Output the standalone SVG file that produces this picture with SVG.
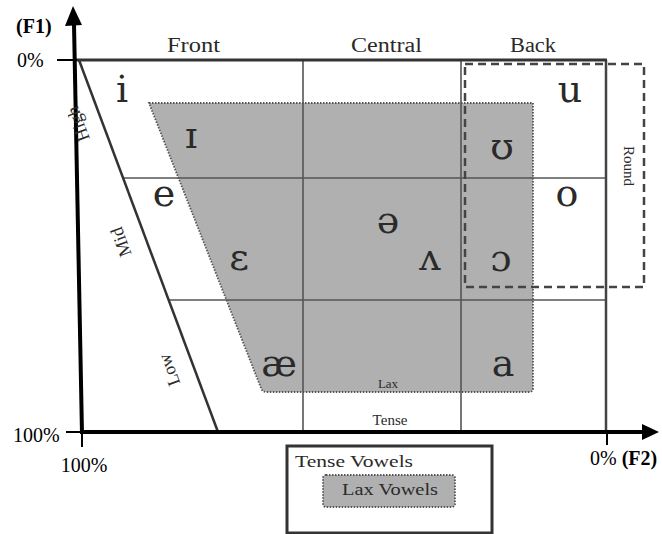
<svg xmlns="http://www.w3.org/2000/svg" width="662" height="534" viewBox="0 0 662 534">
<style>
.lbl{font-family:"Liberation Serif","DejaVu Serif",serif;fill:#2a2a2a}
.axl{font-family:"Liberation Serif","DejaVu Serif",serif;fill:#000;font-size:20px}
.v{font-family:"DejaVu Serif","Liberation Serif",serif;fill:#2a2a2a;font-size:38px;text-anchor:middle}
.grid{stroke:#555;stroke-width:1.6;fill:none}
.lax{fill:#b0b0b0;stroke:#555;stroke-width:1.8;stroke-dasharray:1.5 1.5}
</style>
<rect width="662" height="534" fill="#fff"/>
<g id="lax-region">
<path class="lax" d="M149,103 L533,103 L533,388 Q533,392 529,392 L267,392 Q262,392 261,388 Z"/>
</g>
<g id="grid">
<line class="grid" x1="124" y1="178" x2="607" y2="178"/>
<line class="grid" x1="169" y1="300" x2="607" y2="300"/>
<line class="grid" x1="303" y1="60" x2="303" y2="432"/>
<line class="grid" x1="461" y1="60" x2="461" y2="432"/>
<line x1="606" y1="60" x2="606" y2="432" stroke="#444" stroke-width="2.5"/>
<line x1="76" y1="60" x2="607" y2="60" stroke="#333" stroke-width="3"/>
<line x1="79" y1="60" x2="218" y2="432" stroke="#333" stroke-width="2.5"/>
</g>
<g id="round-box">
<rect x="465" y="64" width="179" height="223" fill="none" stroke="#444" stroke-width="2.5" stroke-dasharray="8 5"/>
<text class="lbl" font-size="15" text-anchor="middle" transform="translate(624,166) rotate(90)">Round</text>
</g>
<g id="connectors">
<line x1="82" y1="434" x2="74" y2="24" stroke="#000" stroke-width="4"/>
<polygon points="73,6 65,26 82,25" fill="#000"/>
<line x1="80" y1="432" x2="643" y2="432" stroke="#000" stroke-width="4"/>
<polygon points="659,432 642,424 642,440" fill="#000"/>
<line x1="57" y1="60" x2="77" y2="60" stroke="#000" stroke-width="2"/>
<line x1="66" y1="432" x2="82" y2="432" stroke="#000" stroke-width="2"/>
<line x1="82" y1="432" x2="82" y2="447" stroke="#000" stroke-width="2"/>
<line x1="607" y1="432" x2="607" y2="445" stroke="#000" stroke-width="2"/>
</g>
<g id="axis-labels">
<text class="axl" x="16" y="33" font-weight="bold">(F1)</text>
<text class="axl" x="17" y="67">0%</text>
<text class="axl" x="13" y="442">100%</text>
<text class="axl" x="84" y="472" text-anchor="middle">100%</text>
<text class="axl" x="590" y="465">0% <tspan font-weight="bold">(F2)</tspan></text>
</g>
<g id="column-labels">
<text class="lbl" font-size="20" x="167" y="52" textLength="53" lengthAdjust="spacingAndGlyphs">Front</text>
<text class="lbl" font-size="20" x="351" y="52" textLength="71" lengthAdjust="spacingAndGlyphs">Central</text>
<text class="lbl" font-size="20" x="510" y="52" textLength="46" lengthAdjust="spacingAndGlyphs">Back</text>
</g>
<g id="height-labels">
<text class="lbl" font-size="18" text-anchor="middle" transform="translate(78,124) rotate(-110.4)" dy="6">High</text>
<text class="lbl" font-size="18" text-anchor="middle" transform="translate(121,242) rotate(-110.4)" dy="6">Mid</text>
<text class="lbl" font-size="18" text-anchor="middle" transform="translate(169,370) rotate(-110.4)" dy="6">Low</text>
</g>
<g id="region-labels">
<text class="lbl" font-size="13" x="388" y="388" text-anchor="middle">Lax</text>
<text class="lbl" font-size="15" x="390" y="425" text-anchor="middle">Tense</text>
</g>
<g id="vowel-i"><text class="v" x="122" y="102">i</text></g>
<g id="vowel-I"><text class="v" x="191" y="148">ɪ</text></g>
<g id="vowel-e"><text class="v" x="164" y="206">e</text></g>
<g id="vowel-eps"><text class="v" x="239" y="270">ɛ</text></g>
<g id="vowel-ae"><text class="v" x="279" y="376">æ</text></g>
<g id="vowel-schwa"><text class="v" x="388" y="233">ə</text></g>
<g id="vowel-wedge"><text class="v" x="430" y="270">ʌ</text></g>
<g id="vowel-u"><text class="v" x="570" y="102">u</text></g>
<g id="vowel-upsilon"><text class="v" x="502" y="159">ʊ</text></g>
<g id="vowel-o"><text class="v" x="567" y="206">o</text></g>
<g id="vowel-openo"><text class="v" x="501" y="271">ɔ</text></g>
<g id="vowel-a"><text class="v" x="503" y="376">a</text></g>
<g id="legend">
<rect x="287" y="446" width="205" height="87" fill="#fff" stroke="#333" stroke-width="3"/>
<text class="lbl" font-size="17" x="295" y="467" textLength="118" lengthAdjust="spacingAndGlyphs">Tense Vowels</text>
<rect x="323" y="475" width="132" height="32" rx="3" class="lax"/>
<text class="lbl" font-size="17" x="342" y="495" textLength="96" lengthAdjust="spacingAndGlyphs">Lax Vowels</text>
</g>
</svg>
